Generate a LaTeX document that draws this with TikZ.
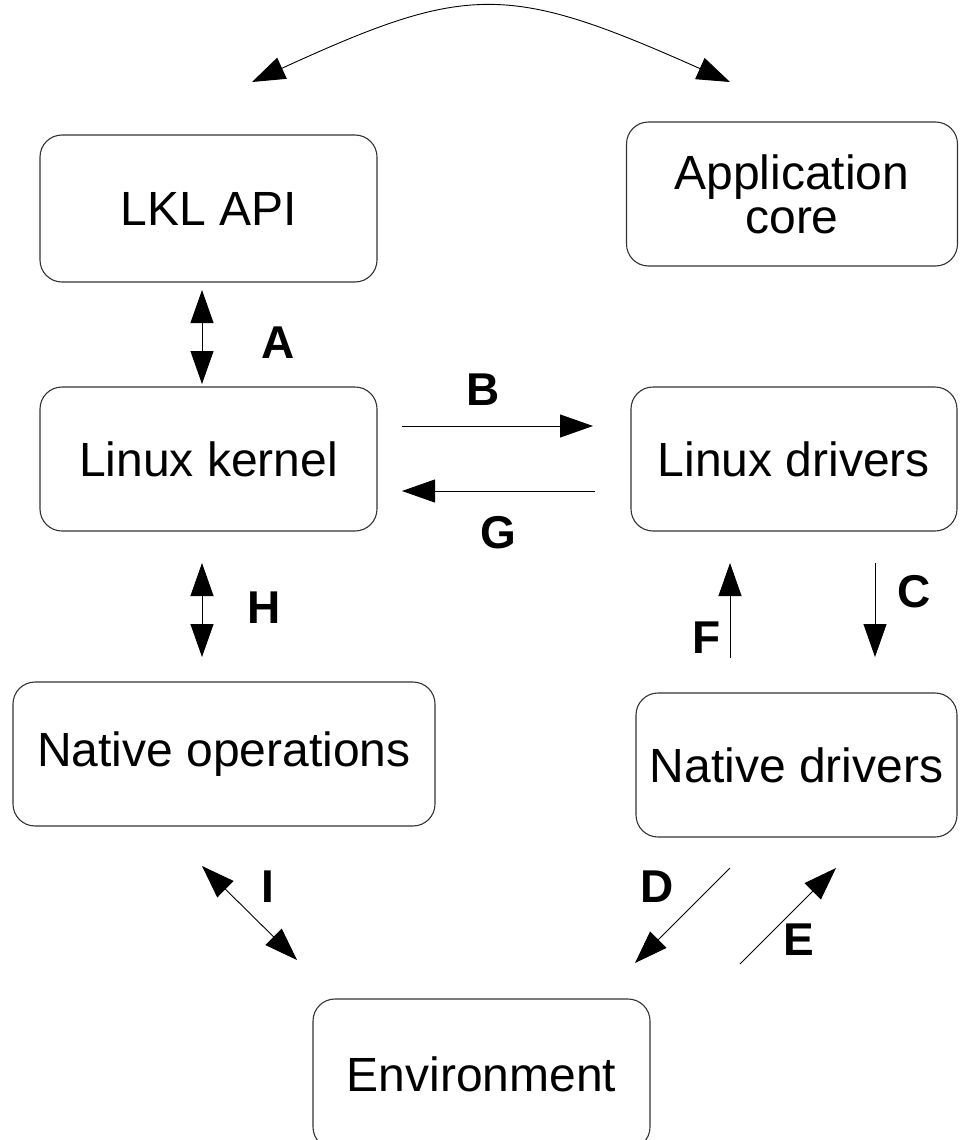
\documentclass[tikz,border=0pt]{standalone}
\usepackage{fontspec}
\setmainfont{Liberation Sans}
\usetikzlibrary{arrows.meta}
\begin{document}
\begin{tikzpicture}[x=1pt,y=-1pt,
  box/.style={draw=black!80, line width=1.1pt, rounded corners=22pt,
    font=\fontsize{48}{44}\selectfont, align=center, inner sep=0pt},
  tipa/.tip={Triangle[length=33pt,width=23pt]},
  conn/.style={line width=0.9pt, -tipa},
  both/.style={line width=0.9pt, tipa-tipa},
  lbl/.style={font=\fontsize{46}{46}\selectfont\bfseries, inner sep=0pt}]
\useasboundingbox (0,0) rectangle (959,1140);

% boxes
\node[box, minimum width=337pt, minimum height=147pt] (lkl)  at (208.5,208.5) {LKL API};
\node[box, minimum width=331pt, minimum height=144pt] (app)  at (792,194) {Application\\core};
\node[box, minimum width=337pt, minimum height=144pt] (kern) at (208.5,459) {Linux kernel};
\node[box, minimum width=326pt, minimum height=144pt] (ldrv) at (794,459) {Linux drivers};
\node[box, minimum width=422pt, minimum height=144pt] (nops) at (224,754) {Native operations};
\node[box, minimum width=321pt, minimum height=144pt] (ndrv) at (796.5,765) {Native drivers};
\node[box, minimum width=337pt, minimum height=150pt] (env)  at (481.5,1074) {Environment};

% connector end points
\coordinate (tl) at (252,82);   \coordinate (tr) at (730,82);
\coordinate (a1) at (202,290);  \coordinate (a2) at (202,384);
\coordinate (b1) at (402,426);  \coordinate (b2) at (593,426);
\coordinate (g1) at (595,491);  \coordinate (g2) at (402,491);
\coordinate (h1) at (202,563);  \coordinate (h2) at (202,657);
\coordinate (f1) at (730,658);  \coordinate (f2) at (730,563);
\coordinate (c1) at (875,563);  \coordinate (c2) at (875,657);
\coordinate (i1) at (202,866);  \coordinate (i2) at (297,960);
\coordinate (d1) at (730,868);  \coordinate (d2) at (635,963);
\coordinate (e1) at (740,964);  \coordinate (e2) at (836,868);

% connectors
\draw[both] (tl) .. controls (468,-17) and (508,-17) .. (tr);
\draw[both] (a1) -- (a2);
\draw[conn] (b1) -- (b2);
\draw[conn] (g1) -- (g2);
\draw[both] (h1) -- (h2);
\draw[conn] (f1) -- (f2);
\draw[conn] (c1) -- (c2);
\draw[both] (i1) -- (i2);
\draw[conn] (d1) -- (d2);
\draw[conn] (e1) -- (e2);

% labels
\node[lbl] (la) at (278,343) {A};
\node[lbl] (lb) at (483,390) {B};
\node[lbl] (lg) at (498,533) {G};
\node[lbl] (lh) at (264,608) {H};
\node[lbl] (lf) at (707,638) {F};
\node[lbl] (lc) at (914,592) {C};
\node[lbl] (li) at (268,887) {I};
\node[lbl] (ld) at (657,887) {D};
\node[lbl] (le) at (799,940) {E};
\end{tikzpicture}
\end{document}
